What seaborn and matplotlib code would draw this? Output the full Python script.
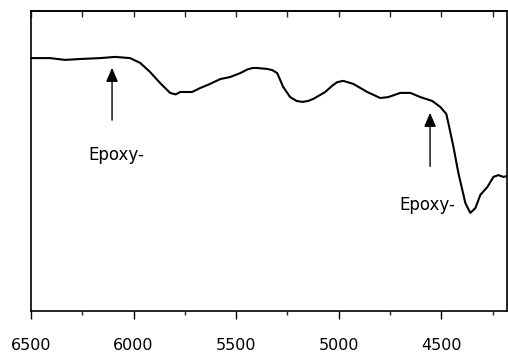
import matplotlib
matplotlib.use("Agg")
import matplotlib.pyplot as plt
import seaborn as sns
import pandas as pd
from matplotlib.ticker import MultipleLocator

wavenumber = [6500, 6407, 6334, 6261, 6163, 6090, 6017, 5968, 5920, 5871, 5822,
              5795, 5773, 5715, 5676, 5627, 5578, 5529, 5480, 5446, 5420, 5398,
              5350, 5324, 5300, 5271, 5237, 5205, 5178, 5150, 5124, 5066, 5030,
              5007, 4978, 4929, 4861, 4798, 4759, 4700, 4651, 4602, 4544, 4505,
              4476, 4466, 4441, 4417, 4383, 4359, 4334, 4310, 4276, 4246, 4222,
              4198, 4178]
absorbance = [0.843, 0.843, 0.837, 0.840, 0.843, 0.847, 0.843, 0.827, 0.797, 0.760, 0.727,
              0.722, 0.730, 0.730, 0.743, 0.757, 0.773, 0.780, 0.793, 0.805, 0.810, 0.810,
              0.807, 0.803, 0.793, 0.747, 0.713, 0.700, 0.697, 0.700, 0.707, 0.730, 0.752,
              0.763, 0.767, 0.757, 0.730, 0.710, 0.713, 0.727, 0.727, 0.713, 0.700, 0.680,
              0.657, 0.627, 0.547, 0.460, 0.360, 0.327, 0.343, 0.387, 0.413, 0.447, 0.453,
              0.447, 0.450]

labels = ["Epoxy-", "Epoxy-"]
arrow_x = [6105, 4555]
arrow_tail_y = [0.627, 0.473]
arrow_tip_y = [0.82, 0.67]
label_x = [6085, 4568]
label_y = [0.52, 0.353]
xticks = [6500, 6000, 5500, 5000, 4500]

sns.set_theme(style="ticks")
plt.rcParams["font.family"] = ["DejaVu Sans"]

df = pd.DataFrame({"wavenumber": wavenumber, "absorbance": absorbance})

fig = plt.figure(figsize=(5.08, 3.57), dpi=100)
ax = fig.add_axes([31 / 508, 1 - 311 / 357, (507 - 31) / 508, 300 / 357])
sns.lineplot(data=df, x="wavenumber", y="absorbance", ax=ax, color="black",
             linewidth=1.5, sort=False)

ax.set_xlim(6500, 4180)
ax.set_ylim(0, 1)
ax.set_xticks(xticks)
ax.set_xticklabels([str(t) for t in xticks])
ax.xaxis.set_minor_locator(MultipleLocator(250))
ax.set_yticks([])
ax.set_xlabel("")
ax.set_ylabel("")
for s in ax.spines.values():
    s.set_visible(True)
    s.set_linewidth(1.2)
    s.set_color("black")
ax.tick_params(axis="x", which="major", direction="out", length=6, width=1,
               labelsize=11.5, pad=13.5, colors="black")
ax.tick_params(axis="x", which="minor", direction="out", length=3, width=1)
ax.tick_params(axis="x", which="both", top=False)

sec = ax.secondary_xaxis("top")
sec.set_xticks(list(range(6500, 4180, -250)))
sec.set_xticklabels([])
sec.tick_params(direction="in", length=4, width=1)
sec.xaxis.set_minor_locator(MultipleLocator(10000))

for lx, ly, ax_x, ty, hy, txt in zip(label_x, label_y, arrow_x, arrow_tail_y, arrow_tip_y, labels):
    ax.annotate("", xy=(ax_x, hy), xytext=(ax_x, ty),
                arrowprops=dict(arrowstyle="-|>,head_length=0.7,head_width=0.3",
                                color="black", lw=1))
    ax.text(lx, ly, txt, ha="center", va="center", fontsize=12, color="black")

fig.savefig("out.png", dpi=100)
